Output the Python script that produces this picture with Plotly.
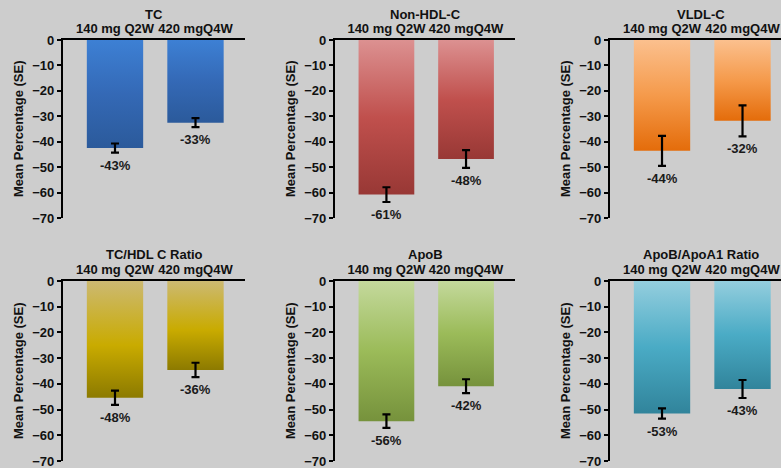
import plotly.graph_objects as go

# ---------------- data ----------------
groups = ["140 mg Q2W", "420 mgQ4W"]
panel_titles = ["TC", "Non-HDL-C", "VLDL-C", "TC/HDL C Ratio", "ApoB", "ApoB/ApoA1 Ratio"]
tc_values = [-42.5, -32.5]
tc_se = [1.8, 1.8]
nonhdl_values = [-60.8, -46.8]
nonhdl_se = [2.9, 3.5]
vldl_values = [-43.6, -31.8]
vldl_se = [5.9, 6.1]
tchdl_values = [-45.4, -34.6]
tchdl_se = [2.8, 2.8]
apob_values = [-54.5, -40.9]
apob_se = [2.6, 2.7]
apoa1_values = [-51.5, -42.0]
apoa1_se = [2.0, 3.5]
tc_labels = ["-43%", "-33%"]
nonhdl_labels = ["-61%", "-48%"]
vldl_labels = ["-44%", "-32%"]
tchdl_labels = ["-48%", "-36%"]
apob_labels = ["-56%", "-42%"]
apoa1_labels = ["-53%", "-43%"]
y_ticks = [0, -10, -20, -30, -40, -50, -60, -70]
y_title = "Mean Percentage (SE)"

values = [tc_values, nonhdl_values, vldl_values, tchdl_values, apob_values, apoa1_values]
ses = [tc_se, nonhdl_se, vldl_se, tchdl_se, apob_se, apoa1_se]
labels = [tc_labels, nonhdl_labels, vldl_labels, tchdl_labels, apob_labels, apoa1_labels]

# gradient colour scales (bottom -> top)
gradients = [
    [[0, "#2b5a9b"], [0.5, "#3469b6"], [1, "#3d80d4"]],
    [[0, "#983835"], [0.5, "#c0504d"], [1, "#dc9191"]],
    [[0, "#e46c0a"], [0.5, "#f59a4b"], [1, "#fbc08e"]],
    [[0, "#8c7a00"], [0.45, "#c9ab00"], [1, "#ccb972"]],
    [[0, "#76923c"], [0.5, "#9bbb59"], [1, "#c4d99c"]],
    [[0, "#31849b"], [0.5, "#4aabc5"], [1, "#94cede"]],
]

# ---------------- layout geometry ----------------
W, H = 781, 468
FONT = "Liberation Sans, Arial, sans-serif"
x_domains = [[63 / W, 245 / W], [335 / W, 515 / W], [610 / W, 1.0]]
x_ranges = [[-0.646, 1.615], [-0.646, 1.615], [-0.646, 1.478]]
y_domains = [[1 - 218 / H, 1 - 40 / H], [1 - 461 / H, 1 - 281 / H]]
title_y = [1 - 14 / H, 1 - 255 / H]
bar_w = 0.70

fig = go.Figure()
layout = dict(
    width=W, height=H,
    margin=dict(l=0, r=0, t=0, b=0, autoexpand=False),
    paper_bgcolor="#cdcdcd",
    plot_bgcolor="rgba(0,0,0,0)",
    showlegend=False,
    font=dict(family=FONT, size=13, color="#111111"),
)
annotations = []

for p in range(6):
    row, col = divmod(p, 3)
    n = p + 1
    xa = "x" if n == 1 else f"x{n}"
    ya = "y" if n == 1 else f"y{n}"
    xkey = "xaxis" if n == 1 else f"xaxis{n}"
    ykey = "yaxis" if n == 1 else f"yaxis{n}"

    vals, se, labs = values[p], ses[p], labels[p]
    for i, v in enumerate(vals):
        xs = [i - bar_w / 2, i - bar_w / 2, i + bar_w / 2, i + bar_w / 2, i - bar_w / 2]
        ys = [0, v, v, 0, 0]
        fig.add_trace(go.Scatter(
            x=xs, y=ys, xaxis=xa, yaxis=ya, mode="lines", fill="toself",
            line=dict(width=0, color="rgba(0,0,0,0)"),
            fillgradient=dict(type="vertical", colorscale=gradients[p]),
            hoverinfo="skip",
        ))
    fig.add_trace(go.Scatter(
        x=list(range(len(vals))), y=vals, xaxis=xa, yaxis=ya, mode="markers",
        marker=dict(size=1, opacity=0),
        error_y=dict(type="data", array=se, color="black", thickness=2.2, width=4),
    ))
    for i, v in enumerate(vals):
        annotations.append(dict(
            x=i, y=v - se[i], xref=xa, yref=ya, text=labs[i], showarrow=False,
            yanchor="top", yshift=-3,
            font=dict(family=FONT, size=13, color="#1a1a1a", weight="bold"),
        ))

    layout[xkey] = dict(
        domain=x_domains[col], range=x_ranges[col], anchor=ya, side="top",
        showline=True, linecolor="black", linewidth=2.2, showgrid=False, zeroline=False,
        tickvals=list(range(len(groups))), ticktext=groups, ticks="",
        tickfont=dict(family=FONT, size=13, color="#111111", weight="bold"),
        fixedrange=True, automargin=False, ticklabeloverflow="allow",
    )
    layout[ykey] = dict(
        domain=y_domains[row], range=[-70, 0], anchor=xa,
        showline=True, linecolor="black", linewidth=2.2, showgrid=False, zeroline=False,
        tickvals=y_ticks, ticks="outside", ticklen=4, tickwidth=2, tickcolor="black",
        tickfont=dict(family=FONT, size=13, color="#111111", weight="bold"),
        fixedrange=True, automargin=False, ticklabeloverflow="allow",
    )
    annotations.append(dict(
        x=(x_domains[col][0] * W + 91) / W, y=title_y[row], xref="paper", yref="paper",
        text=panel_titles[p], showarrow=False, xanchor="center", yanchor="middle",
        font=dict(family=FONT, size=13, color="#111111", weight="bold"),
    ))
    annotations.append(dict(
        x=(x_domains[col][0] * W - 45) / W,
        y=(y_domains[row][0] + y_domains[row][1]) / 2,
        xref="paper", yref="paper", text=y_title, textangle=-90,
        showarrow=False, xanchor="center", yanchor="middle",
        font=dict(family=FONT, size=13, color="#111111", weight="bold"),
    ))

layout["annotations"] = annotations
fig.update_layout(**layout)
fig.write_html(
    "out.html",
    config={"displayModeBar": False},
    post_script="document.body.style.margin='0';document.body.style.padding='0';"
                "document.body.style.overflow='hidden';document.body.style.background='#cdcdcd';",
)
